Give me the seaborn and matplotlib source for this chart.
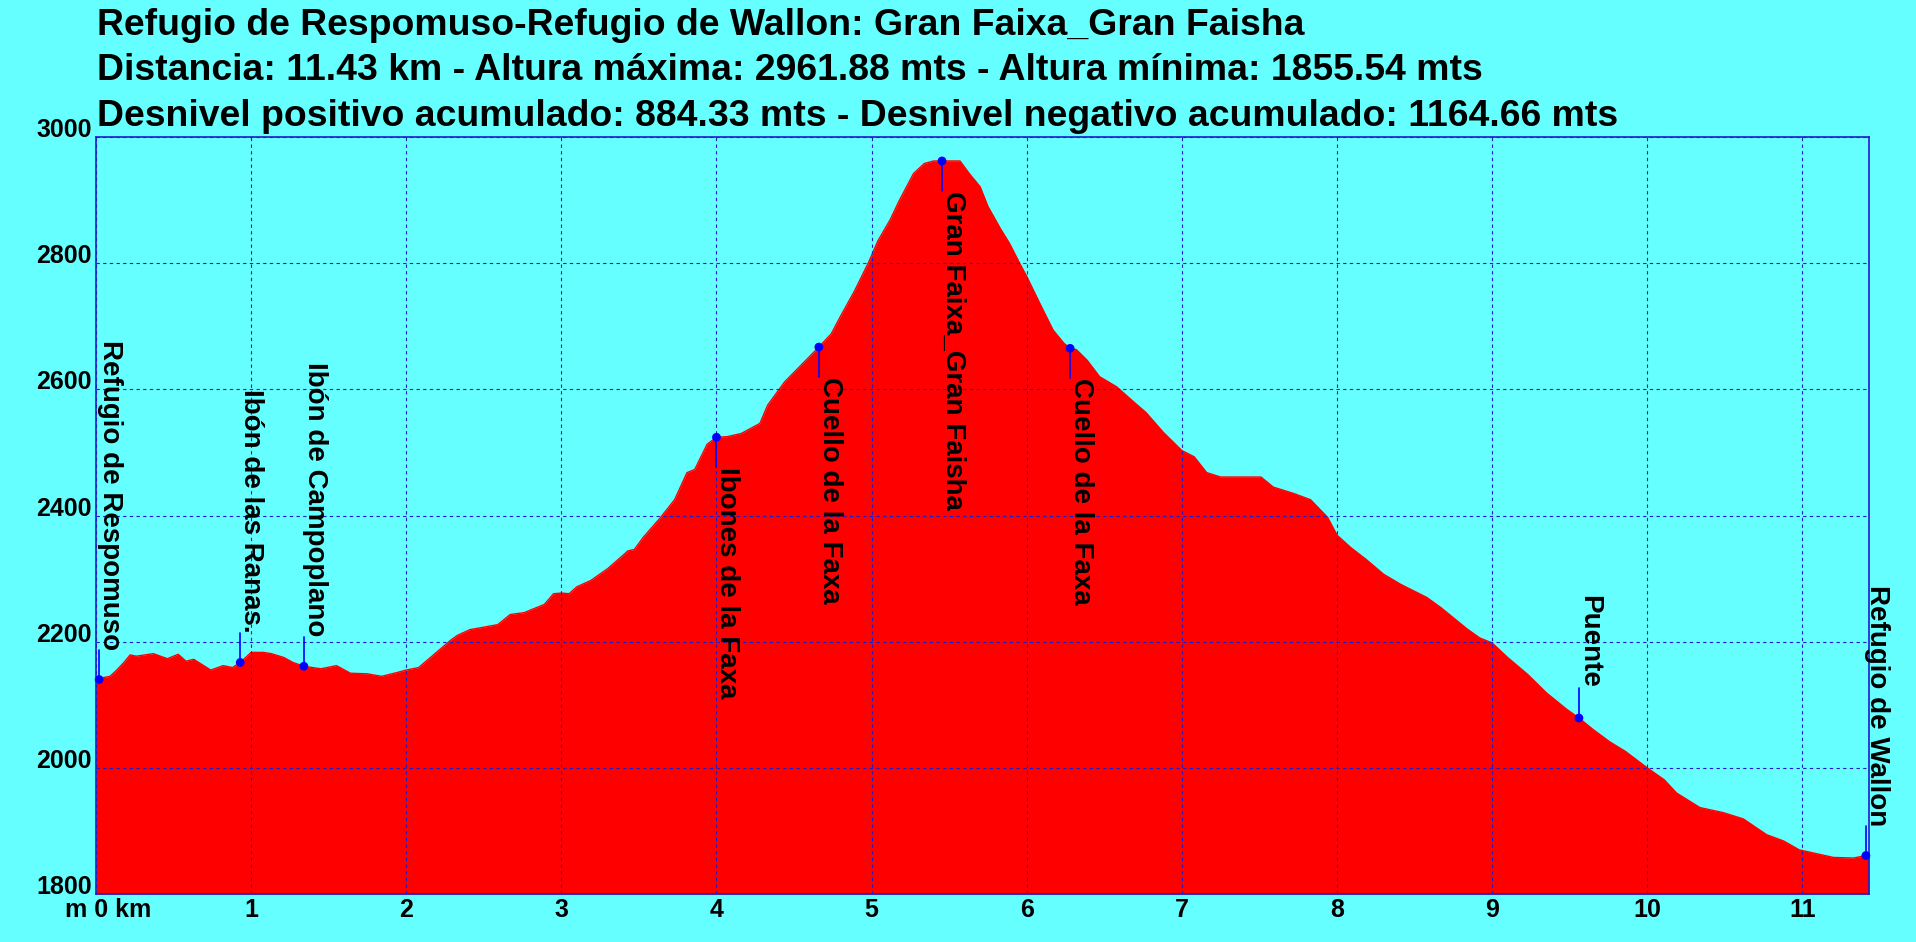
import numpy as np
import pandas as pd
import seaborn as sns
import matplotlib.pyplot as plt
from matplotlib.transforms import ScaledTranslation

# profile (km, metres)
dist_km = [0.0, 0.025, 0.09, 0.13, 0.18, 0.22, 0.26, 0.37, 0.46, 0.53, 0.58, 0.63, 0.74, 0.82,
           0.88, 0.93, 1.0, 1.08, 1.13, 1.21, 1.27, 1.34, 1.45, 1.55, 1.64, 1.75, 1.84, 1.94,
           2.0, 2.08, 2.18, 2.29, 2.33, 2.41, 2.59, 2.67, 2.76, 2.89, 2.95, 3.0, 3.05, 3.10,
           3.19, 3.30, 3.43, 3.47, 3.53, 3.64, 3.73, 3.81, 3.86, 3.94, 4.0, 4.07, 4.16, 4.28,
           4.33, 4.44, 4.54, 4.66, 4.74, 4.80, 4.89, 4.98, 5.04, 5.12, 5.18, 5.27, 5.34, 5.40,
           5.46, 5.57, 5.63, 5.70, 5.75, 5.83, 5.89, 5.95, 6.0, 6.085, 6.17, 6.24, 6.28, 6.32,
           6.39, 6.47, 6.58, 6.69, 6.77, 6.88, 7.0, 7.08, 7.16, 7.25, 7.51, 7.59, 7.72, 7.83,
           7.94, 8.0, 8.09, 8.19, 8.30, 8.41, 8.58, 8.67, 8.75, 8.84, 8.92, 9.0, 9.10, 9.23,
           9.35, 9.48, 9.56, 9.65, 9.76, 9.86, 10.0, 10.11, 10.19, 10.34, 10.49, 10.62, 10.77,
           10.88, 10.98, 11.09, 11.20, 11.33, 11.41, 11.43]
elev_m = [2138, 2142, 2145, 2154, 2167, 2179, 2177, 2181, 2173, 2180, 2169, 2172, 2155, 2162,
          2159, 2167, 2183, 2183, 2181, 2175, 2167, 2161, 2157, 2162, 2150, 2149, 2145, 2151,
          2155, 2159, 2180, 2203, 2210, 2219, 2227, 2243, 2246, 2259, 2276, 2277, 2276, 2287,
          2297, 2316, 2344, 2346, 2366, 2397, 2425, 2468, 2473, 2513, 2524, 2525, 2530, 2546,
          2575, 2612, 2637, 2667, 2688, 2716, 2756, 2801, 2835, 2869, 2900, 2942, 2958, 2962,
          2962, 2962, 2942, 2921, 2890, 2855, 2831, 2802, 2779, 2736, 2694, 2673, 2665, 2663,
          2646, 2620, 2604, 2580, 2563, 2532, 2503, 2493, 2468, 2461, 2461, 2445, 2435, 2425,
          2397, 2369, 2349, 2330, 2307, 2291, 2270, 2254, 2238, 2220, 2206, 2198, 2175, 2148,
          2119, 2093, 2079, 2061, 2041, 2026, 2000, 1981, 1960, 1937, 1929, 1919, 1894,
          1884, 1870, 1864, 1858, 1857, 1861, 1858]

# waypoints
wp_names = ["Refugio de Respomuso", "Ibón de las Ranas.", "Ibón de Campoplano",
            "Ibones de la Faxa", "Cuello de la Faxa", "Gran Faixa_Gran Faisha",
            "Cuello de la Faxa", "Puente", "Refugio de Wallon"]
wp_km = [0.02, 0.93, 1.34, 4.0, 4.66, 5.454, 6.28, 9.56, 11.41]
wp_elev = [2140, 2167, 2161, 2524, 2667, 2962, 2665, 2079, 1861]
wp_above = [True, True, True, False, False, False, False, True, True]

title_lines = ["Refugio de Respomuso-Refugio de Wallon: Gran Faixa_Gran Faisha",
               "Distancia: 11.43 km - Altura máxima: 2961.88 mts - Altura mínima: 1855.54 mts",
               "Desnivel positivo acumulado: 884.33 mts - Desnivel negativo acumulado: 1164.66 mts"]
x_ticks = list(range(0, 12))
x_ticklabels = ["m 0 km"] + [str(k) for k in range(1, 12)]
y_ticks = list(range(1800, 3001, 200))

BG = "#66FFFF"
BLUE = "#1E1EC8"

sns.set_theme(style="white")
plt.rcParams['font.family'] = ['Liberation Sans', 'DejaVu Sans']
plt.rcParams['font.weight'] = 'bold'

df = pd.DataFrame({"km": dist_km, "elev": elev_m})

fig = plt.figure(figsize=(19.16, 9.42), dpi=100, facecolor=BG)
ax = fig.add_axes([96 / 1916, 1 - 894 / 942, (1869 - 96) / 1916, (894 - 137) / 942])
ax.set_facecolor(BG)

ax.fill_between(df["km"], 1800, df["elev"], color="#FF0000", lw=0, zorder=1)
sns.lineplot(data=df, x="km", y="elev", color="#FF0000", lw=1, ax=ax, zorder=2)

ax.set_xlim(0, 11.43)
ax.set_ylim(1800, 3000)
ax.set_xticks(x_ticks)
ax.set_xticklabels(x_ticklabels, fontsize=18, fontweight='bold', color='black')
ax.set_yticks(y_ticks)
ax.set_yticklabels([str(v) for v in y_ticks], fontsize=18, fontweight='bold', color='black')
ax.tick_params(length=0, pad=3)
for lbl in ax.get_yticklabels():
    lbl.set_va('baseline')
first = ax.get_xticklabels()[0]
first.set_transform(first.get_transform() + ScaledTranslation(0.12, 0, fig.dpi_scale_trans))
ax.set_xlabel("")
ax.set_ylabel("")

ax.grid(True, color=BLUE, lw=0.8, ls=(0, (3, 3)), zorder=3)
ax.set_axisbelow(False)
for sp in ax.spines.values():
    sp.set_color(BLUE)
    sp.set_linewidth(1.2)
    sp.set_zorder(4)

# waypoint stems, dots and labels
gap = 47
for name, x, y, up in zip(wp_names, wp_km, wp_elev, wp_above):
    y2 = y + gap if up else y - gap
    ax.plot([x, x], [y, y2], color="#0000FF", lw=1.2, zorder=5, clip_on=False)
    ax.text(x - 0.015, y2, name, rotation=-90, ha='left', va='bottom' if up else 'top',
            fontsize=20, fontweight='bold', color='black', zorder=6, clip_on=False)
sns.scatterplot(x=wp_km, y=wp_elev, color="#0000FF", s=40, edgecolor="none",
                ax=ax, zorder=6, clip_on=False)

for i, line in enumerate(title_lines):
    fig.text(97 / 1916, 1 - (35 + 45.5 * i) / 942, line, fontsize=26.9, fontweight='bold',
             color='black', ha='left', va='baseline')

fig.savefig("out.png", dpi=100, facecolor=BG)
